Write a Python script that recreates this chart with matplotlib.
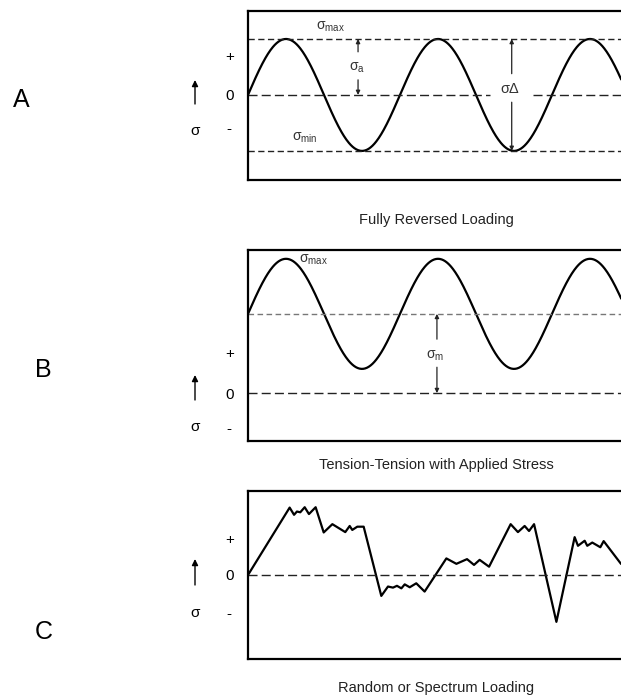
import numpy as np
import matplotlib
matplotlib.use('Agg')
import matplotlib.pyplot as plt

plt.rcParams['font.family'] = ['Liberation Sans', 'DejaVu Sans']
plt.rcParams['mathtext.fontset'] = 'custom'
plt.rcParams['mathtext.rm'] = 'Liberation Sans'
plt.rcParams['mathtext.it'] = 'Liberation Sans'
plt.rcParams['mathtext.default'] = 'regular'

# -------------------------------------------------------------------------------------
# Data
# Cycles shown in each box (x in load cycles)
t_end = 2.454

# A - fully reversed (units of amplitude)
a_max = 1.0
a_min = -1.0
a_mean = 0.0
a_ylim = [-1.52, 1.5]
a_ticks = [0.71, 0.0, -0.59]

# B - tension-tension
b_amp = 1.0
b_mean = 1.44
b_ylim = [-0.87, 2.6]
b_ticks = [0.73, 0.0, -0.62]

# C - random / spectrum loading
c_x = [0.0, 0.274, 0.303, 0.322, 0.344, 0.373, 0.401, 0.445, 0.498, 0.555, 0.640, 0.669,
       0.686, 0.719, 0.761, 0.877, 0.921, 0.954, 0.980, 1.009, 1.031, 1.064, 1.107, 1.162,
       1.305, 1.371, 1.441, 1.487, 1.524, 1.586, 1.728, 1.776, 1.820, 1.849, 1.882, 2.029,
       2.149, 2.171, 2.215, 2.232, 2.265, 2.318, 2.340, 2.452]
c_y = [0.0, 1.87, 1.67, 1.76, 1.74, 1.88, 1.69, 1.88, 1.18, 1.41, 1.19, 1.36,
       1.25, 1.34, 1.34, -0.58, -0.32, -0.35, -0.30, -0.37, -0.26, -0.34, -0.23, -0.46,
       0.46, 0.31, 0.44, 0.28, 0.42, 0.23, 1.41, 1.19, 1.36, 1.22, 1.41, -1.30,
       1.05, 0.81, 0.95, 0.81, 0.90, 0.77, 0.94, 0.32]
c_ylim = [-2.33, 2.33]
c_ticks = [1.0, 0.0, -1.05]

tick_labels = ['+', '0', '-']
titles = ['Fully Reversed Loading', 'Tension-Tension with Applied Stress', 'Random or Spectrum Loading']
panel_letters = ['A', 'B', 'C']
# -------------------------------------------------------------------------------------

W, H = 621.0, 699.0
fig = plt.figure(figsize=(6.21, 6.99), dpi=100)
fig.patch.set_facecolor('white')


# -------------------------------------------------------------------------------------
# Helpers
def addBox(iTop, iBot, a1dYLim, a1dTicks):
    oAx = fig.add_axes([248 / W, 1 - iBot / H, (W - 248) / W, (iBot - iTop) / H])
    oAx.set_xlim(0, t_end)
    oAx.set_ylim(a1dYLim)
    oAx.set_xticks([])
    oAx.set_yticks(a1dTicks)
    oAx.set_yticklabels(tick_labels, fontsize=11, ha='center')
    oAx.tick_params(axis='y', length=0, pad=13.5)
    for sSide in ['left', 'top', 'bottom']:
        oAx.spines[sSide].set_linewidth(1.6)
    oAx.spines['right'].set_visible(False)
    return oAx


def hDash(oAx, dY, dX0=0.0, dX1=t_end, a1dDash=(6.5, 3.0), sColor='#222222'):
    oAx.plot([dX0, dX1], [dY, dY], color=sColor, lw=1.0, dashes=a1dDash)


def vArrow(oAx, dX, dYFrom, dYTo):
    oAx.annotate('', xy=(dX, dYTo), xytext=(dX, dYFrom),
                 arrowprops=dict(arrowstyle='-|>', color='#222222', lw=0.9,
                                 mutation_scale=6, shrinkA=0, shrinkB=0))


def sideLabels(iYArrowTop, iYArrowBot, iYSigma):
    fig.text(195 / W, 1 - iYSigma / H, '\u03c3', fontsize=11, ha='center', va='center')
    fig.patches.append(matplotlib.patches.FancyArrowPatch(
        (195 / W, 1 - iYArrowBot / H), (195 / W, 1 - iYArrowTop / H),
        transform=fig.transFigure, arrowstyle='-|>', mutation_scale=9,
        color='black', lw=1.0, shrinkA=0, shrinkB=0))
# -------------------------------------------------------------------------------------

t = np.linspace(0, t_end, 600)

# -------------------------------------------------------------------------------------
# Panel A
oAxA = addBox(11, 180, a_ylim, a_ticks)
oAxA.plot(t, a_mean + a_max * np.sin(2 * np.pi * t), color='black', lw=1.6)
hDash(oAxA, a_max, a1dDash=(4.5, 2.5))
hDash(oAxA, a_min, a1dDash=(4.5, 2.5))
hDash(oAxA, 0.0, 0.0, 1.59)
hDash(oAxA, 0.0, 1.875, t_end)
# sigma_a arrow
vArrow(oAxA, 0.724, 0.77, a_max)
vArrow(oAxA, 0.724, 0.27, 0.0)
oAxA.text(0.715, 0.48, r'$\sigma_a$', fontsize=10, ha='center', va='center', color='#333333')
# sigma_delta arrow
vArrow(oAxA, 1.735, 0.38, a_max)
vArrow(oAxA, 1.735, -0.13, a_min)
oAxA.text(1.72, 0.1, '\u03c3\u0394', fontsize=10.5, ha='center', va='center', color='#333333')
oAxA.text(0.54, 1.22, r'$\sigma_{max}$', fontsize=10, ha='center', va='center', color='#333333')
oAxA.text(0.375, -0.77, r'$\sigma_{min}$', fontsize=10, ha='center', va='center', color='#333333')
sideLabels(80, 104, 131)

# -------------------------------------------------------------------------------------
# Panel B
oAxB = addBox(250, 441, b_ylim, b_ticks)
oAxB.plot(t, b_mean + b_amp * np.sin(2 * np.pi * t), color='black', lw=1.6)
hDash(oAxB, b_mean, a1dDash=(4.0, 2.5), sColor='#777777')
hDash(oAxB, 0.0)
vArrow(oAxB, 1.243, 0.98, b_mean)
vArrow(oAxB, 1.243, 0.47, 0.0)
oAxB.text(1.23, 0.68, r'$\sigma_m$', fontsize=10, ha='center', va='center', color='#333333')
oAxB.text(0.43, 2.42, r'$\sigma_{max}$', fontsize=10, ha='center', va='center', color='#333333')
sideLabels(375, 400, 427)

# -------------------------------------------------------------------------------------
# Panel C
oAxC = addBox(491, 659, c_ylim, c_ticks)
oAxC.plot(c_x, c_y, color='black', lw=1.6)
hDash(oAxC, 0.0)
sideLabels(559, 585, 613)

# -------------------------------------------------------------------------------------
# Titles and panel letters
for sTitle, iY in zip(titles, [220, 465, 688]):
    fig.text(436 / W, 1 - iY / H, sTitle, fontsize=10.5, ha='center', va='center', color='#222222')
for sLetter, iX, iY in zip(panel_letters, [21, 43, 44], [100, 370, 632]):
    fig.text(iX / W, 1 - iY / H, sLetter, fontsize=18, ha='center', va='center')

fig.savefig('out.png', dpi=100, facecolor='white')
